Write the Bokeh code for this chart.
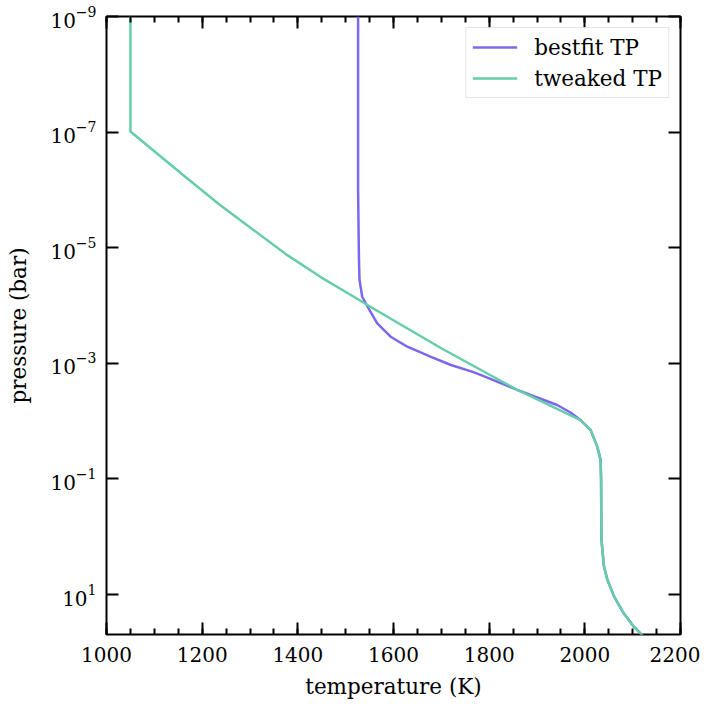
from bokeh.plotting import figure
from bokeh.models import (Range1d, LinearAxis, LogAxis, FixedTicker, SingleIntervalTicker,
                          Legend, LegendItem)
from bokeh.embed import file_html
from bokeh.resources import INLINE

# ---- data ----
best_logp = [-9.0, -6.0, -5.304, -4.8, -4.44, -4.152, -3.979, -3.692, -3.461, -3.288,
             -3.116, -2.972, -2.857, -2.80, -2.54, -2.28, -2.15, -2.02, -1.85, -1.56,
             -1.33, -0.986, -0.5, 0.0, 0.166, 0.51, 0.74, 1.03, 1.32, 1.55, 1.72]
best_T = [1526, 1526, 1527, 1527.8, 1529, 1534.6, 1546, 1566, 1594, 1629,
          1677, 1720, 1764, 1782, 1859, 1942, 1970, 1991, 2012, 2026,
          2033, 2034, 2034.3, 2034.6, 2036, 2040, 2047, 2061, 2081, 2102, 2122]

tweak_logp = [-9.0, -7.01, -6.197, -5.736, -5.304, -4.872, -4.497, -4.152, -3.997,
              -3.27, -2.89, -2.54, -2.02, -1.85, -1.56, -1.33, -0.986, -0.5, 0.0,
              0.166, 0.51, 0.74, 1.03, 1.32, 1.55, 1.72]
tweak_T = [1050, 1050, 1169, 1238, 1308, 1378, 1447, 1517, 1548,
           1698, 1782, 1859, 1991, 2012, 2026, 2033, 2034, 2034.3, 2034.6,
           2036, 2040, 2047, 2061, 2081, 2102, 2122]

y_ticks = [1e-9, 1e-7, 1e-5, 1e-3, 1e-1, 1e1]

best_P = [10 ** v for v in best_logp]
tweak_P = [10 ** v for v in tweak_logp]

FONT = "DejaVu Serif"
PURPLE = "#7b68ee"
GREEN = "#66cdaa"

p = figure(width=700, height=701, output_backend="svg", toolbar_location=None,
           y_axis_type="log",
           x_range=Range1d(1000, 2200), y_range=Range1d(10 ** 1.69, 1e-9),
           min_border_left=106, min_border_right=20, min_border_top=16, min_border_bottom=65,
           x_axis_label="temperature (K)", y_axis_label="pressure (bar)")
p.grid.visible = False
p.outline_line_color = "black"
p.outline_line_width = 2
p.background_fill_color = "white"
p.border_fill_color = "white"

r1 = p.line(best_T, best_P, line_color=PURPLE, line_width=2.5, line_join="round")
r2 = p.line(tweak_T, tweak_P, line_color=GREEN, line_width=2.5, line_join="round")


def style(ax, labels=True):
    ax.axis_line_color = None
    ax.major_tick_in = 12
    ax.major_tick_out = 0
    ax.minor_tick_in = 6
    ax.minor_tick_out = 0
    ax.major_tick_line_width = 2
    ax.minor_tick_line_width = 2
    ax.major_tick_line_color = "black"
    ax.minor_tick_line_color = "black"
    ax.major_label_text_font = FONT
    ax.major_label_text_font_size = "20px"
    ax.major_label_text_color = "black"
    ax.axis_label_text_font = FONT
    ax.axis_label_text_font_size = "21.5px"
    ax.axis_label_text_font_style = "normal"
    ax.axis_label_text_color = "black"
    if not labels:
        ax.major_label_text_font_size = "1px"
        ax.major_label_text_color = None
        ax.major_label_standoff = 0


xa = p.xaxis[0]
xa.ticker = SingleIntervalTicker(interval=200, num_minor_ticks=4)
style(xa)
xa.major_label_standoff = 12
xa.axis_label_standoff = 9

ya = p.yaxis[0]
ya.ticker = FixedTicker(ticks=y_ticks, minor_ticks=[])
style(ya)
ya.major_label_standoff = 10
ya.axis_label_standoff = 16

top = LinearAxis(ticker=SingleIntervalTicker(interval=200, num_minor_ticks=4))
style(top, labels=False)
p.add_layout(top, "above")
right = LogAxis(ticker=FixedTicker(ticks=y_ticks, minor_ticks=[]))
style(right, labels=False)
p.add_layout(right, "right")

legend = Legend(items=[LegendItem(label="bestfit TP", renderers=[r1]),
                       LegendItem(label="tweaked TP", renderers=[r2])],
                location="top_right")
legend.label_text_font = FONT
legend.label_text_font_size = "21.5px"
legend.label_text_color = "black"
legend.border_line_color = "#cccccc"
legend.border_line_width = 1
legend.background_fill_alpha = 0.8
legend.glyph_width = 45
legend.glyph_height = 26
legend.label_height = 26
legend.label_standoff = 17
legend.spacing = 5
legend.padding = 6
legend.margin = 11
p.add_layout(legend)

open("out.html", "w").write(file_html(p, INLINE))
